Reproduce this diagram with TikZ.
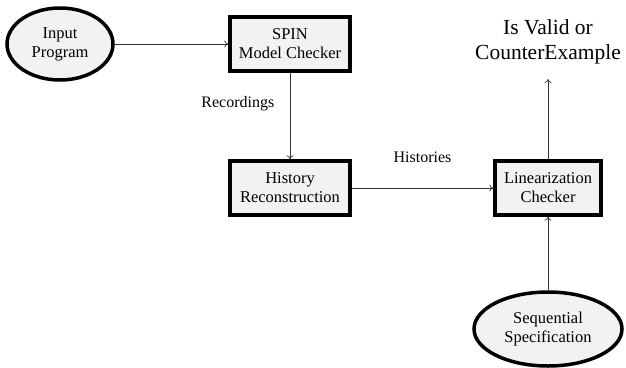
\documentclass[tikz,border=0pt]{standalone}
\usepackage{fontspec}
\setmainfont{Liberation Serif}
\usetikzlibrary{shapes.geometric, arrows.meta}

\begin{document}
\begin{tikzpicture}[x=1pt, y=-1pt,
        stage/.style={draw, line width=3.5pt, fill=black!5, align=center,
            minimum width=120pt, minimum height=54pt, inner sep=2pt, font=\fontsize{16.5}{19}\selectfont},
        source/.style={ellipse, draw, line width=3.5pt, fill=black!5, align=center,
            inner sep=0pt, font=\fontsize{16.5}{19}\selectfont},
        flow/.style={-{To[length=4pt, width=7pt]}, line width=0.7pt, black!80},
        lbl/.style={text=black, font=\fontsize{16}{18}\selectfont}]
        \useasboundingbox (0,0) rectangle (626,367);

        \node[source, minimum width=106pt, minimum height=72pt] (input) at (60,44) {Input\\Program};
        \node[stage] (spin) at (290,44) {SPIN\\Model Checker};
        \node[stage] (history) at (290,188) {History\\Reconstruction};
        \node[stage, minimum width=106pt] (linear) at (548,188) {Linearization\\Checker};
        \node[source, minimum width=148pt, minimum height=74pt] (spec) at (548,329) {Sequential\\Specification};
        \node[align=center, inner sep=0pt, font=\fontsize{21.5}{25}\selectfont] (result) at (548,42) {Is Valid or\\CounterExample};
        \coordinate (top) at (548,79);

        \draw[flow] (input) -- (spin);
        \draw[flow] (spin) -- (history) node[lbl, pos=0.36, left=12pt] {Recordings};
        \draw[flow] (history) -- (linear) node[lbl, midway, above=22pt] {Histories};
        \draw[flow] (linear) -- (top);
        \draw[flow] (spec) -- (linear);
    \end{tikzpicture}
\end{document}
